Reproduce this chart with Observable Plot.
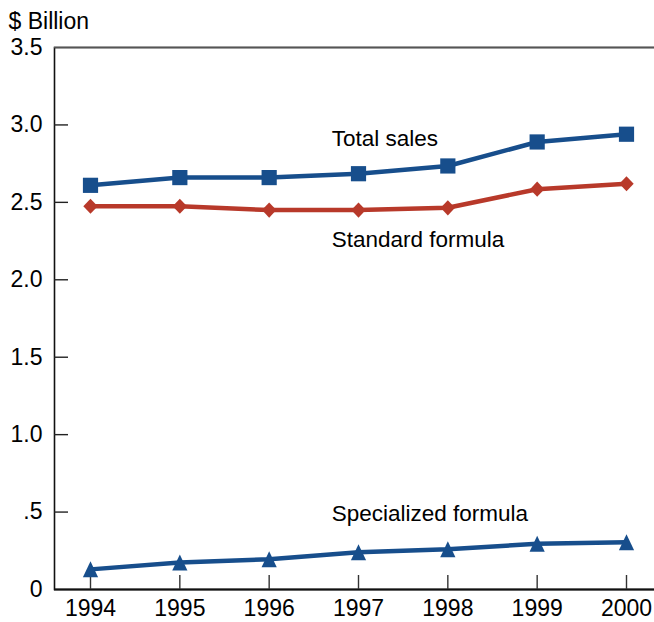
<!DOCTYPE html>
<html><head><meta charset="utf-8">
<script src="https://cdn.jsdelivr.net/npm/d3@7"></script>
<script src="https://cdn.jsdelivr.net/npm/@observablehq/plot@0.6"></script>
<style>html,body{margin:0;padding:0;background:#fff;overflow:hidden} svg{display:block} svg text{font-size:23px} svg g.series-label text{font-size:22.5px}</style>
</head><body><div id="chart"></div>
<script>
const years = [1994, 1995, 1996, 1997, 1998, 1999, 2000];
const totalSales = [2.61, 2.66, 2.66, 2.685, 2.735, 2.89, 2.94];
const standardFormula = [2.475, 2.475, 2.45, 2.45, 2.465, 2.585, 2.62];
const specializedFormula = [0.13, 0.175, 0.195, 0.24, 0.26, 0.295, 0.305];
const yTicks = [0, 0.5, 1, 1.5, 2, 2.5, 3, 3.5];
const yTickLabels = ["0", ".5", "1.0", "1.5", "2.0", "2.5", "3.0", "3.5"];
const seriesNames = ["Total sales", "Standard formula", "Specialized formula"];
const labelYear = [1996.7, 1996.7, 1996.7];
const labelValue = [2.91, 2.26, 0.49];
const yUnit = "$ Billion";

const BLUE = "#174e8c", RED = "#b8392a";

const square = {draw(ctx) { const h = 7.6; ctx.moveTo(-h, -h); ctx.lineTo(h, -h); ctx.lineTo(h, h); ctx.lineTo(-h, h); ctx.closePath(); }};
const diamond = {draw(ctx) { const w = 7.2, h = 7.6; ctx.moveTo(0, -h); ctx.lineTo(w, 0); ctx.lineTo(0, h); ctx.lineTo(-w, 0); ctx.closePath(); }};
const triangle = {draw(ctx) { const w = 7.6, h = 8; ctx.moveTo(0, -h); ctx.lineTo(w, h); ctx.lineTo(-w, h); ctx.closePath(); }};

const series = [
  {values: totalSales, color: BLUE, symbol: square},
  {values: standardFormula, color: RED, symbol: diamond},
  {values: specializedFormula, color: BLUE, symbol: triangle}
];

const seriesMarks = series.flatMap(s => {
  const rows = years.map((y, i) => ({year: y, value: s.values[i]}));
  return [
    Plot.line(rows, {x: "year", y: "value", stroke: s.color, strokeWidth: 4.5}),
    Plot.dot(rows, {x: "year", y: "value", fill: s.color, stroke: "none", r: 7, symbol: s.symbol})
  ];
});

const labels = seriesNames.map((n, i) => ({name: n, year: labelYear[i], value: labelValue[i]}));

const chart = Plot.plot({
  width: 654,
  height: 622,
  marginLeft: 54,
  marginRight: 0,
  marginTop: 47,
  marginBottom: 33,
  style: {fontFamily: "'Liberation Sans', Arial, sans-serif", fontSize: "23px", color: "#000", background: "#fff"},
  x: {domain: [1994, 2000], insetLeft: 36, insetRight: 28, axis: null, label: null},
  y: {domain: [0, 3.5], axis: null, label: null},
  marks: [
    Plot.frame({stroke: "#111", strokeWidth: 1.6, insetRight: -6}),
    Plot.ruleY([3.5], {stroke: "#555", strokeWidth: 1.6}),
    Plot.ruleY([0], {stroke: "#111", strokeWidth: 2}),
    Plot.tickY(yTicks.filter(d => d > 0 && d < 3.5), {y: d => d, stroke: "#222", strokeWidth: 1.4, insetRight: 586}),
    Plot.tickX(years, {x: d => d, stroke: "#333", strokeWidth: 1.4, insetTop: 528}),
    Plot.axisY(yTicks, {label: null, tickSize: 0, tickPadding: 12, fontSize: 23, tickFormat: d => yTickLabels[yTicks.indexOf(d)]}),
    Plot.axisX(years, {label: null, tickSize: 0, tickPadding: 10, fontSize: 23, tickFormat: d => String(d)}),
    Plot.text([yUnit], {frameAnchor: "top-left", dx: -46, dy: -25.5, textAnchor: "start", lineAnchor: "middle", fontSize: 23, fill: "#000"}),
    ...seriesMarks,
    Plot.text(labels, {x: "year", y: "value", text: "name", textAnchor: "start", lineAnchor: "middle", fontSize: 22.5, fill: "#000", className: "series-label"})
  ]
});
document.getElementById("chart").appendChild(chart);
</script>
</body></html>
